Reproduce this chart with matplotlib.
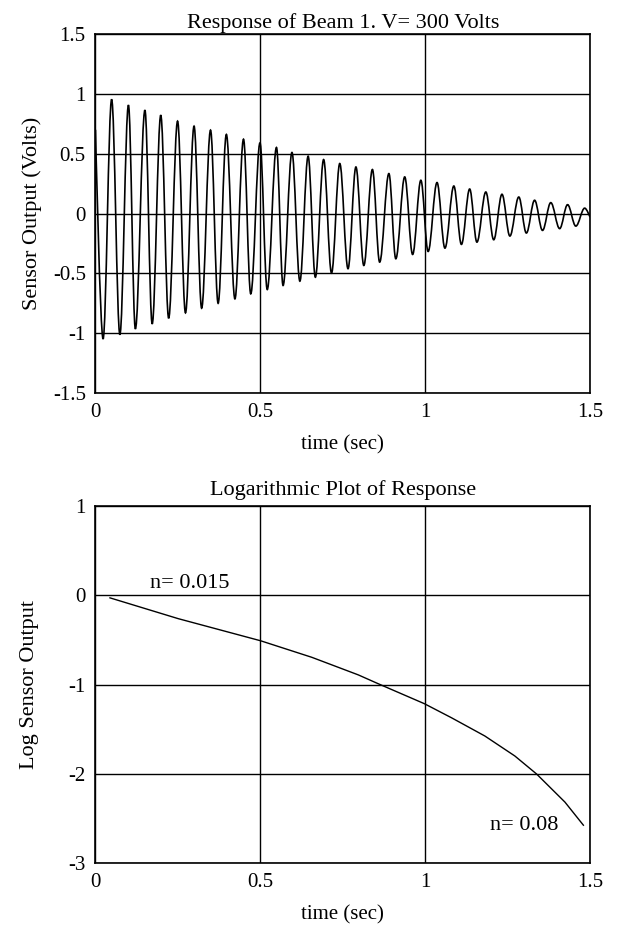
# Beam 1 response: decaying oscillation and its log plot
import matplotlib
matplotlib.use('Agg')
import matplotlib.pyplot as plt
from matplotlib.path import Path
from matplotlib.patches import PathPatch

plt.rcParams['font.family'] = ['Liberation Serif', 'DejaVu Serif']

# --- top plot: extrema of the sensor signal ---
peak_t = [0.049, 0.100, 0.150, 0.198, 0.249, 0.299, 0.349, 0.397, 0.449, 0.499,
          0.549, 0.596, 0.645, 0.692, 0.741, 0.790, 0.840, 0.890, 0.938, 0.987,
          1.036, 1.087, 1.135, 1.184, 1.233, 1.284, 1.332, 1.381, 1.432, 1.484]
peak_v = [0.954, 0.906, 0.864, 0.822, 0.772, 0.730, 0.697, 0.661, 0.621, 0.590,
          0.552, 0.510, 0.479, 0.451, 0.418, 0.389, 0.368, 0.334, 0.306, 0.278,
          0.259, 0.230, 0.205, 0.180, 0.161, 0.138, 0.111, 0.091, 0.074, 0.045]
trough_t = [0.023, 0.074, 0.121, 0.172, 0.222, 0.273, 0.322, 0.372, 0.423, 0.471,
            0.521, 0.569, 0.620, 0.667, 0.716, 0.766, 0.814, 0.862, 0.911, 0.962,
            1.009, 1.060, 1.110, 1.157, 1.208, 1.257, 1.307, 1.356, 1.408, 1.457]
trough_v = [-1.048, -1.012, -0.964, -0.922, -0.875, -0.830, -0.791, -0.750, -0.713, -0.671,
            -0.635, -0.601, -0.565, -0.532, -0.498, -0.461, -0.434, -0.406, -0.378, -0.342,
            -0.317, -0.289, -0.258, -0.239, -0.219, -0.188, -0.163, -0.141, -0.126, -0.105]
start_t, start_v = 0.0, 0.70
end_t, end_v = 1.5, -0.03

# --- bottom plot: log of the response envelope ---
log_t = [0.044, 0.251, 0.501, 0.656, 0.797, 0.858, 0.997, 1.080, 1.181, 1.272, 1.338, 1.424, 1.48]
log_v = [-0.028, -0.261, -0.509, -0.694, -0.891, -0.991, -1.213, -1.372, -1.576, -1.80, -2.002, -2.317, -2.576]

xticks = [0, 0.5, 1, 1.5]
xtick_labels = ['0', '0.5', '1', '1.5']
top_yticks = [-1.5, -1, -0.5, 0, 0.5, 1, 1.5]
top_ylabels = ['-1.5', '-1', '-0.5', '0', '0.5', '1', '1.5']
bot_yticks = [-3, -2, -1, 0, 1]
bot_ylabels = ['-3', '-2', '-1', '0', '1']

# merge extrema into one time-ordered trace
pts = [(start_t, start_v)] + list(zip(peak_t, peak_v)) + list(zip(trough_t, trough_v)) + [(end_t, end_v)]
pts.sort()

# smooth the trace between extrema with cubic curves (flat at each peak/trough)
k = 0.3642
verts = [pts[0]]
codes = [Path.MOVETO]
for i in range(1, len(pts)):
    t0, v0 = pts[i - 1]
    t1, v1 = pts[i]
    dt = t1 - t0
    c1 = (t0, v0) if i == 1 else (t0 + k * dt, v0)
    c2 = (t1, v1) if i == len(pts) - 1 else (t1 - k * dt, v1)
    verts += [c1, c2, (t1, v1)]
    codes += [Path.CURVE4, Path.CURVE4, Path.CURVE4]

fig = plt.figure(figsize=(6.2, 9.27), dpi=100)
ax1 = fig.add_axes([0.154, 0.576, 0.7976, 0.3873])
ax2 = fig.add_axes([0.154, 0.069, 0.7976, 0.385])


def style(ax, yticks, ylabels):
    ax.set_xlim(0, 1.5)
    ax.set_xticks(xticks)
    ax.set_xticklabels(xtick_labels)
    ax.set_yticks(yticks)
    ax.set_yticklabels(ylabels)
    ax.set_ylim(yticks[0], yticks[-1])
    ax.grid(True, color='black', linewidth=1.0)
    ax.tick_params(length=0, labelsize=15, pad=7)
    for s in ax.spines.values():
        s.set_linewidth(1.2)
    ax.set_xlabel('time (sec)', fontsize=15, labelpad=10)


ax1.add_patch(PathPatch(Path(verts, codes), facecolor='none', edgecolor='black', linewidth=1.2))
style(ax1, top_yticks, top_ylabels)
ax1.set_title('Response of Beam 1. V= 300 Volts', fontsize=16, pad=4)
ax1.set_ylabel('Sensor Output (Volts)', fontsize=16, labelpad=8)

ax2.plot(log_t, log_v, color='black', linewidth=1.0)
style(ax2, bot_yticks, bot_ylabels)
ax2.set_title('Logarithmic Plot of Response', fontsize=16, pad=8)
ax2.set_ylabel('Log Sensor Output', fontsize=16, labelpad=21)
ax2.text(0.285, 0.03, 'n= 0.015', fontsize=16, ha='center', va='bottom')
ax2.text(1.30, -2.63, 'n= 0.08', fontsize=16, ha='center', va='baseline')

fig.savefig('out.png', dpi=100)
